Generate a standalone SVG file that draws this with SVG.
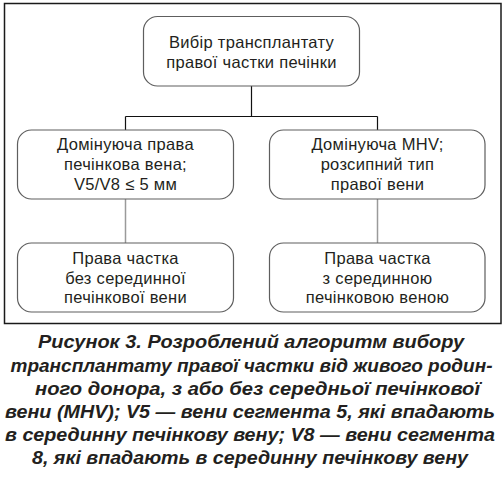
<svg xmlns="http://www.w3.org/2000/svg" width="504" height="477" viewBox="0 0 504 477">
<style>
.box{fill:#fff;stroke:#5e5e5e;stroke-width:1.2}
.t{font-family:"Liberation Sans",Arial,sans-serif;font-size:16.5px;letter-spacing:0.3px;fill:#231f20;text-anchor:middle}
.c{font-family:"Liberation Sans",Arial,sans-serif;font-size:19px;font-weight:bold;font-style:italic;fill:#231f20;text-anchor:middle}
.k{fill:none;stroke:#111;stroke-width:1.2}
.g{fill:none;stroke:#9a9a9a;stroke-width:1.5}
</style>
<rect x="0" y="0" width="504" height="477" fill="#fff"/>
<rect id="frame" x="4.5" y="3.5" width="496.5" height="320" fill="none" stroke="#1a1a1a" stroke-width="1.5"/>
<g id="connectors">
<path class="k" d="M251.5 86V116.5M125.5 116.5H377.5M125.5 116.5V130M377.5 116.5V130"/>
<path class="g" d="M125.5 199V243M377.5 199V243"/>
</g>
<g id="n1">
<rect class="box" x="143.5" y="16.5" width="216" height="69.5" rx="14"/>
<text class="t" x="251.5" y="48">Вибір трансплантату</text>
<text class="t" x="251.5" y="68">правої частки печінки</text>
</g>
<g id="n2">
<rect class="box" x="17.5" y="130" width="216" height="69" rx="14"/>
<text class="t" x="125.5" y="150">Домінуюча права</text>
<text class="t" x="125.5" y="170">печінкова вена;</text>
<text class="t" x="125.5" y="189.5">V5/V8 ≤ 5 мм</text>
</g>
<g id="n3">
<rect class="box" x="269.5" y="130" width="215.5" height="69" rx="14"/>
<text class="t" x="377.5" y="150">Домінуюча MHV;</text>
<text class="t" x="377.5" y="170">розсипний тип</text>
<text class="t" x="377.5" y="189.5">правої вени</text>
</g>
<g id="n4">
<rect class="box" x="17.5" y="243" width="216" height="69" rx="14"/>
<text class="t" x="125.5" y="264">Права частка</text>
<text class="t" x="125.5" y="284">без серединної</text>
<text class="t" x="125.5" y="303">печінкової вени</text>
</g>
<g id="n5">
<rect class="box" x="269.5" y="243" width="215.5" height="69" rx="14"/>
<text class="t" x="377.5" y="264">Права частка</text>
<text class="t" x="377.5" y="284">з серединною</text>
<text class="t" x="377.5" y="303">печінковою веною</text>
</g>
<g id="caption">
<text class="c" x="251" y="348" textLength="426" lengthAdjust="spacingAndGlyphs">Рисунок 3. Розроблений алгоритм вибору</text>
<text class="c" x="251.5" y="371.5" textLength="482" lengthAdjust="spacingAndGlyphs">трансплантату правої частки від живого родин-</text>
<text class="c" x="257.5" y="395" textLength="445" lengthAdjust="spacingAndGlyphs">ного донора, з або без середньої печінкової</text>
<text class="c" x="250" y="418" textLength="490" lengthAdjust="spacingAndGlyphs">вени (MHV); V5 — вени сегмента 5, які впадають</text>
<text class="c" x="250" y="441" textLength="490" lengthAdjust="spacingAndGlyphs">в серединну печінкову вену; V8 — вени сегмента</text>
<text class="c" x="250" y="464" textLength="436" lengthAdjust="spacingAndGlyphs">8, які впадають в серединну печінкову вену</text>
</g>
</svg>
